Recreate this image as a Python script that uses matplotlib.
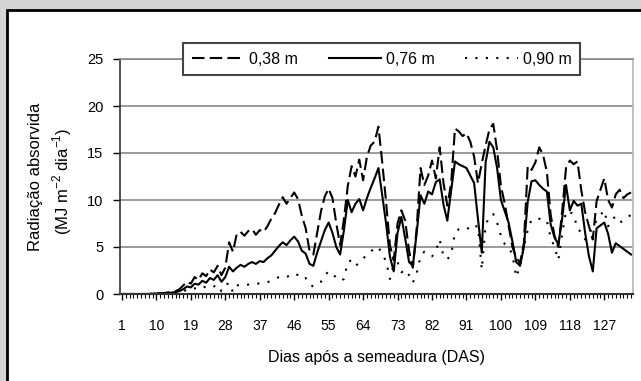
import matplotlib.pyplot as plt
from matplotlib.patches import Rectangle

plt.rcParams['font.family'] = ['Liberation Sans', 'DejaVu Sans']

# radiação absorvida diária (MJ m-2 dia-1), dias 1..134
dias = list(range(1, 135))

rad_038 = [0, 0, 0, 0, 0, 0, 0, 0, 0.05, 0.05,
           0.1, 0.1, 0.15, 0.2, 0.3, 0.5, 0.9, 1.3, 1.1, 1.8,
           1.5, 2.2, 1.9, 2.6, 2.3, 3.0, 2.0, 2.8, 5.5, 4.5,
           6.4, 6.6, 6.2, 6.7, 6.9, 6.3, 6.8, 6.6, 7.2,
           8.0, 8.6, 9.5, 10.3, 9.6, 10.2, 10.8, 10.1, 8.3, 7.0,
           4.6, 4.2, 6.5, 8.8, 10.4, 11.2, 10.2, 7.5, 5.2, 8.0,
           11.5, 13.6, 12.5, 14.3, 12.1, 14.6, 15.8, 16.2, 17.8, 14.0,
           9.8, 5.2, 3.6, 7.5, 8.9, 7.8, 4.6, 2.8, 7.0, 13.4,
           11.6, 12.6, 14.2, 12.3, 15.6, 11.8, 9.4, 11.8, 17.6,
           17.3, 16.8, 17.1, 16.2, 14.6, 11.8, 13.9, 15.8, 17.5, 18.1,
           15.3, 11.5, 9.6, 7.3, 5.0, 3.9, 3.3, 5.4, 13.6, 13.2,
           14.0, 15.6, 14.8, 13.0, 8.4, 6.2, 5.0, 8.8, 13.4, 14.2,
           13.8, 14.1, 11.0, 8.7, 7.2, 5.8, 9.9, 11.1, 12.3,
           10.0, 9.2, 10.6, 11.1, 10.2, 10.6, 10.8]

rad_076 = [0, 0, 0, 0, 0, 0, 0, 0, 0.03, 0.05,
           0.08, 0.1, 0.12, 0.15, 0.2, 0.3, 0.5, 0.8, 0.7, 1.1,
           1.0, 1.4, 1.2, 1.7, 1.5, 2.0, 1.3, 1.8, 2.9, 2.4,
           2.8, 3.1, 2.9, 3.2, 3.4, 3.2, 3.5, 3.4, 3.8,
           4.1, 4.6, 5.1, 5.5, 5.2, 5.7, 6.1, 5.6, 4.6, 4.3,
           3.2, 3.0, 4.4, 5.6, 6.8, 7.6, 6.5, 5.0, 4.2, 6.8,
           10.0, 8.7, 9.6, 10.1, 8.9, 10.2, 11.3, 12.3, 13.4, 10.5,
           7.5, 4.0, 2.4, 6.5, 8.2, 5.9, 3.4, 3.0, 6.5, 10.5,
           9.6, 10.9, 10.6, 11.9, 12.2, 9.5, 7.8, 11.0, 14.1,
           13.8, 13.6, 13.4, 12.6, 11.8, 8.0, 4.4, 14.0, 16.2, 15.6,
           13.4, 10.0, 8.8, 7.6, 5.6, 3.4, 3.0, 5.0, 9.8, 12.0,
           12.1, 11.6, 11.2, 10.9, 7.4, 6.0, 5.3, 8.0, 11.6, 8.9,
           9.9, 9.4, 9.6, 6.5, 4.0, 2.4, 7.0, 7.3, 7.6,
           6.4, 4.4, 5.4, 5.1, 4.8, 4.5, 4.2]

rad_090 = [0, 0, 0, 0, 0, 0, 0, 0, 0.02, 0.03,
           0.04, 0.05, 0.07, 0.1, 0.12, 0.2, 0.3, 0.45, 0.4, 0.6,
           0.55, 0.8, 0.7, 0.9, 0.8, 1.0, 0.3, 0.9, 1.2, 0.2,
           0.9, 1.0, 0.95, 1.0, 1.1, 1.05, 1.15, 1.2, 1.25,
           1.4, 1.6, 1.8, 1.9, 1.8, 2.0, 2.2, 2.0, 1.6, 1.7,
           1.0, 0.8, 1.1, 1.3, 2.0, 2.4, 2.2, 1.7, 1.4, 1.6,
           3.4, 3.6, 3.0, 3.3, 3.8, 4.1, 4.5, 4.9, 5.0, 4.2,
           3.5, 1.6, 3.1, 3.4, 2.3, 2.6, 2.0, 1.2, 2.2, 4.0,
           4.5, 4.2, 4.0, 4.6, 5.8, 4.0, 3.7, 4.2, 6.5,
           6.9, 7.0, 7.1, 6.8, 7.2, 7.2, 2.6, 7.3, 8.3, 8.5,
           7.6, 6.2, 5.3, 5.0, 4.2, 1.8, 3.0, 5.0, 6.8, 7.9,
           8.0, 8.0, 8.0, 7.8, 6.0, 5.0, 3.6, 6.4, 8.8, 8.7,
           8.5, 6.9, 6.6, 5.8, 6.3, 7.2, 7.8, 8.4, 8.9,
           7.2, 8.0, 8.2, 7.6, 7.8, 8.2, 8.4]

xticks = list(range(1, 128, 9))
yticks = [0, 5, 10, 15, 20, 25]

W, H = 641, 381
fig = plt.figure(figsize=(W / 100, H / 100), dpi=100)
fig.patch.set_facecolor('#d4d4d4')

# white panel with black frame, kept behind the axes
fig.patches.append(Rectangle((7 / W, -0.1), 1.2, 1 - 10 / H + 0.1,
                             transform=fig.transFigure, facecolor='white',
                             edgecolor='black', linewidth=2, zorder=-10))

ax = fig.add_axes([120 / W, 1 - 294 / H, 513 / W, 235 / H])
ax.set_facecolor('white')

ax.plot(dias, rad_038, color='black', lw=1.5, linestyle=(0, (6, 2.5)),
        label='0,38 m')
ax.plot(dias, rad_076, color='black', lw=1.5, linestyle='-',
        label='0,76 m')
ax.plot(dias, rad_090, color='black', lw=1.5, linestyle=(0, (1, 4)),
        label='0,90 m')

ax.set_xlim(0.5, 134.5)
ax.set_ylim(0, 25)
ax.set_xticks(xticks)
ax.set_xticks(dias, minor=True)
ax.set_yticks(yticks)
ax.tick_params(axis='x', which='major', length=4, width=1, pad=14,
               labelsize=10, direction='out')
ax.tick_params(axis='x', which='minor', length=3, width=0.8,
               direction='out')
ax.tick_params(axis='y', length=5, width=1, pad=7, labelsize=10.5,
               direction='out')
ax.yaxis.grid(True, color='#8a8a8a', lw=1.2)
ax.set_axisbelow(True)

ax.spines['left'].set_color('#333333')
ax.spines['left'].set_linewidth(1.2)
ax.spines['bottom'].set_color('#333333')
ax.spines['bottom'].set_linewidth(1.5)
ax.spines['top'].set_color('#8a8a8a')
ax.spines['top'].set_linewidth(1.2)
ax.spines['right'].set_color('#b5b5b5')
ax.spines['right'].set_linewidth(1.2)

ax.set_xlabel('Dias após a semeadura (DAS)', fontsize=11.5, labelpad=12)

fig.text(36 / W, 1 - 177 / H, 'Radiação absorvida', rotation=90,
         ha='center', va='center', fontsize=12)
fig.text(62 / W, 1 - 181 / H,
         r'(MJ m$^{\mathregular{-2}}$ dia$^{\mathregular{-1}}$)',
         rotation=90, ha='center', va='center', fontsize=12)

leg = ax.legend(loc='center', bbox_to_anchor=(0.51, 1.0), ncol=3,
                frameon=True, fancybox=False, fontsize=11.5,
                handlelength=3.3, handletextpad=0.3, columnspacing=1.9,
                borderpad=0.55, borderaxespad=0)
leg.get_frame().set_edgecolor('#444444')
leg.get_frame().set_linewidth(1.5)
leg.get_frame().set_alpha(1)

fig.savefig('out.png', dpi=100, facecolor=fig.get_facecolor())
